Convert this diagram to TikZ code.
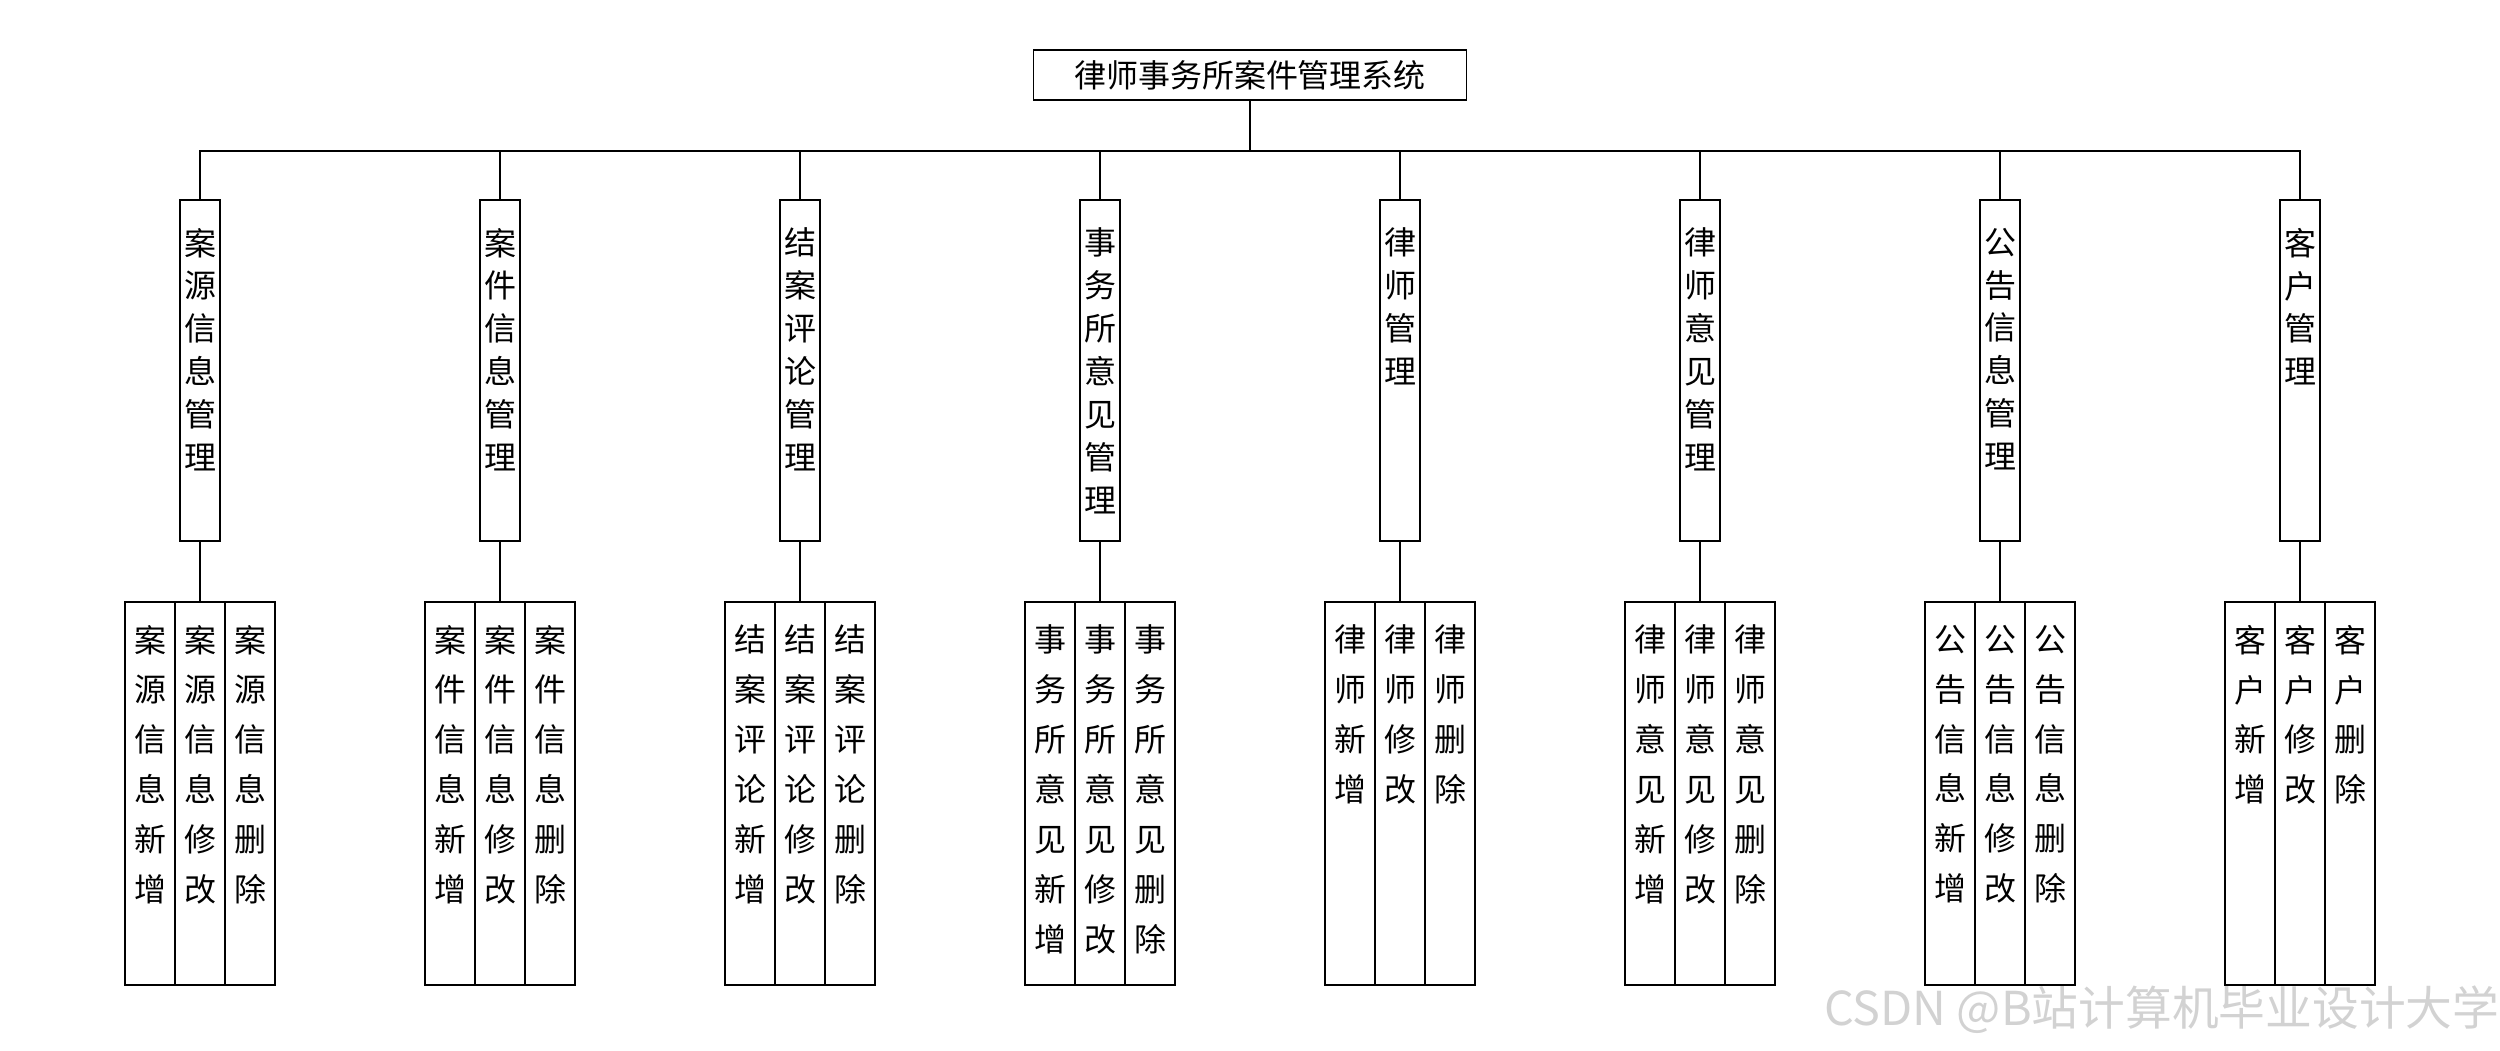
\documentclass[tikz,border=0pt]{standalone}
\usepackage{fontspec}
\setmainfont{Noto Sans CJK SC}
\usetikzlibrary{positioning}
\XeTeXlinebreaklocale "zh"
\XeTeXlinebreakskip=0pt plus 1pt
\setlength\parindent{0pt}

\begin{document}
\begin{tikzpicture}[x=1cm,y=1cm,line width=0.45pt,
    box/.style={draw,inner sep=0pt},
    modbox/.style={box,minimum width=0.4cm,minimum height=3.41cm},
    opbox/.style={box,minimum width=0.5cm,minimum height=3.83cm},
    vlabel/.style={inner sep=0pt,text width=1.3em,align=center}]
    \useasboundingbox (0,0) rectangle (25,-10.5);
    \node[anchor=east,inner sep=0pt,text=gray!35,font=\fontsize{13.3pt}{14pt}\selectfont] (mark) at (25,-10.1) {CSDN @B站计算机毕业设计大学};
    \node[box,minimum width=4.33cm,minimum height=0.5cm,font=\fontsize{9.1pt}{11pt}\selectfont] (sys) at (12.5,-0.75) {律师事务所案件管理系统};
    \foreach \name [count=\i] in {案源信息,案件信息,结案评论,事务所意见,律师,律师意见,公告信息,客户} {
      \pgfmathsetmacro\cx{-1+3*\i}
      \node[modbox] (m\i) at (\cx,-3.705) {};
      \node[vlabel,below=0.28cm of m\i.north,font=\fontsize{9.1pt}{12.2pt}\selectfont] (mt\i) {\name 管理};
      \foreach \act [count=\j] in {新增,修改,删除} {
        \node[opbox] (op\i-\j) at (\cx+0.5*\j-1,-7.935) {};
        \node[vlabel,below=0.23cm of op\i-\j.north,font=\fontsize{9.1pt}{14.2pt}\selectfont] (ot\i-\j) {\name\act};
      }
      \draw (sys.south) -- ++(0,-0.5) -| (m\i.north);
      \draw (m\i.south) -- (op\i-2.north);
    }
\end{tikzpicture}
\end{document}
